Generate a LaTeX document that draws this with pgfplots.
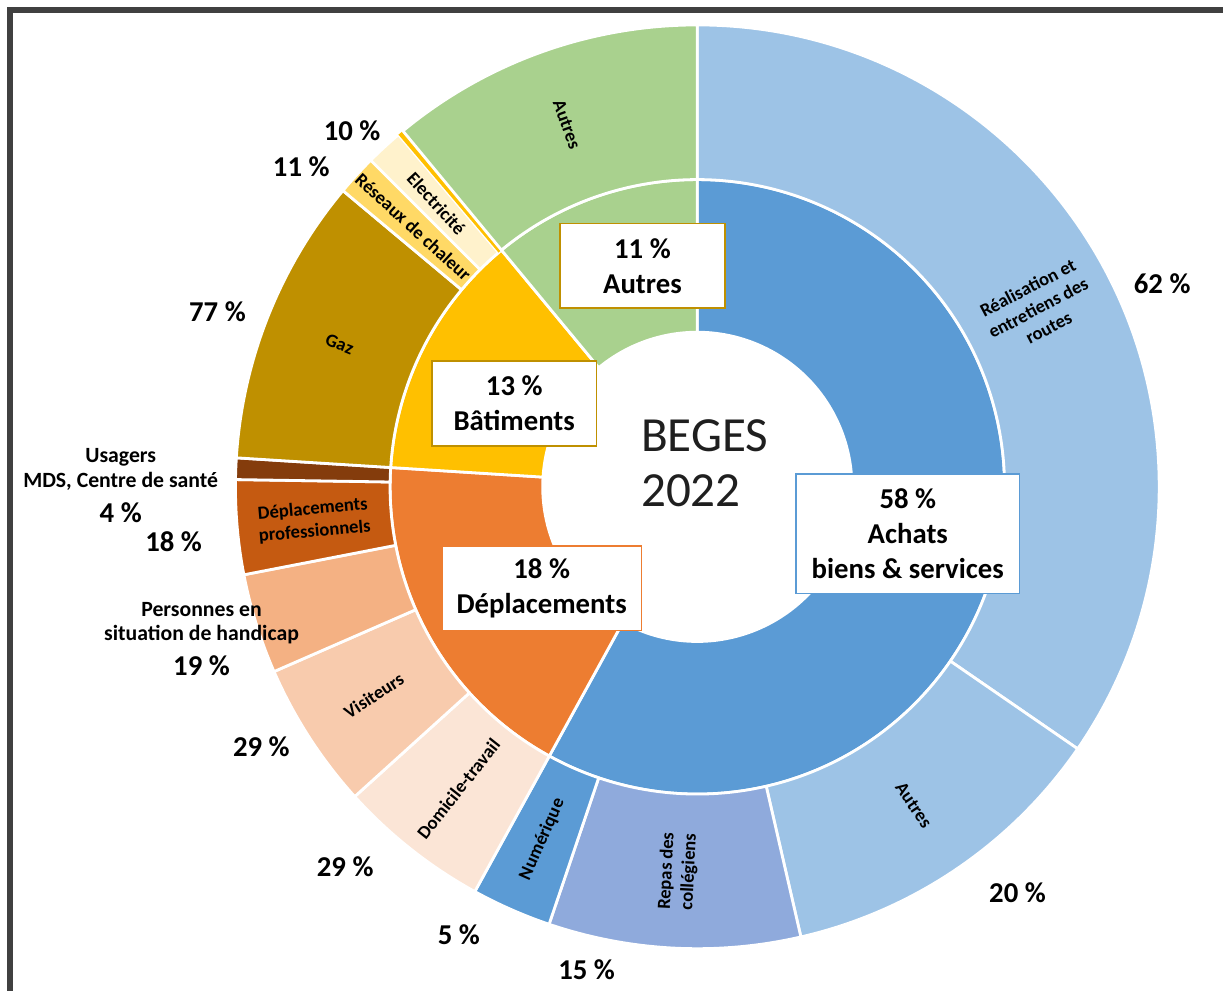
\documentclass[border=0pt]{standalone}
\usepackage{fontspec}
\setmainfont{Carlito}
\usepackage{pgfplots}
\usepackage{pgfplotstable}
\pgfplotsset{compat=1.18}
\usetikzlibrary{calc}

\definecolor{cAchats}{HTML}{5B9BD5}
\definecolor{cRoutes}{HTML}{9DC3E6}
\definecolor{cRepas}{HTML}{8FAADC}
\definecolor{cDepl}{HTML}{ED7D31}
\definecolor{cDom}{HTML}{FBE5D6}
\definecolor{cVis}{HTML}{F8CBAD}
\definecolor{cPers}{HTML}{F4B183}
\definecolor{cPro}{HTML}{C55A11}
\definecolor{cUsa}{HTML}{843C0C}
\definecolor{cBat}{HTML}{FFC000}
\definecolor{cGaz}{HTML}{BF9000}
\definecolor{cRes}{HTML}{FFD966}
\definecolor{cElec}{HTML}{FFF2CC}
\definecolor{cAut}{HTML}{A9D18E}
\definecolor{cFrame}{HTML}{404040}

% share of the total (%), cumulated clockwise from 12 o'clock
\pgfplotstableread{
from  to     col      bd
0     58     cAchats  white
58    76     cDepl    white
76    89     cBat     white
89    100    cAut     white
}\innerring

\pgfplotstableread{
from   to     col      bd
0      34.6   cRoutes  white
34.6   46.4   cRoutes  white
46.4   55.2   cRepas   white
55.2   58     cAchats  white
58     63.3   cDom     white
63.3   68.45  cVis     white
68.45  71.95  cPers    white
71.95  75.25  cPro     white
75.25  76     cUsa     white
76     86.08  cGaz     white
86.08  87.5   cRes     white
87.5   88.8   cElec    white
88.8   89     cBat     none
89     100    cAut     white
}\outerring

\newcommand{\ringsector}[6]{%
  \fill[#5, draw=#6, line width=0.8pt, line join=round]
    ($(axis cs:699,505)+({90-3.6*(#1)}:#4cm)$)
    arc[start angle={90-3.6*(#1)}, end angle={90-3.6*(#2)}, radius=#4cm]
    -- ($(axis cs:699,505)+({90-3.6*(#2)}:#3cm)$)
    arc[start angle={90-3.6*(#2)}, end angle={90-3.6*(#1)}, radius=#3cm]
    -- cycle;}

\newcommand{\drawring}[3]{%
  \pgfplotstablegetrowsof{#1}%
  \pgfmathtruncatemacro{\nrows}{\pgfplotsretval-1}%
  \foreach \i in {0,...,\nrows}{%
    \pgfplotstablegetelem{\i}{from}\of{#1}\let\va\pgfplotsretval
    \pgfplotstablegetelem{\i}{to}\of{#1}\let\vb\pgfplotsretval
    \pgfplotstablegetelem{\i}{col}\of{#1}\let\vc\pgfplotsretval
    \pgfplotstablegetelem{\i}{bd}\of{#1}\let\vd\pgfplotsretval
    \edef\temp{\noexpand\ringsector{\va}{\vb}{#2}{#3}{\vc}{\vd}}\temp
  }}

\newcommand{\segfont}{\fontsize{5.3}{6.4}\selectfont\bfseries}
\newcommand{\boxfont}{\fontsize{8.2}{10}\selectfont\bfseries}
\newcommand{\pctfont}{\fontsize{8.2}{10}\selectfont\bfseries}
\newcommand{\namefont}{\fontsize{6.2}{7.1}\selectfont\bfseries}

\newcommand{\seglabel}[3]{%
  \node[rotate=#2, font=\segfont, align=center, inner sep=0pt]
    at ($(axis cs:699,505)+({90-3.6*(#1)}:3.86cm)$) {#3};}

\begin{document}
\begin{tikzpicture}
\begin{axis}[
  scale only axis, width=12.26cm, height=9.93cm,
  xmin=0, xmax=1226, ymin=0, ymax=993,
  hide axis, clip=false]
\path (axis cs:0,0) rectangle (axis cs:1226,993);

\drawring{\innerring}{1.55}{3.08}
\drawring{\outerring}{3.08}{4.63}

% labels inside the outer ring
\seglabel{17.3}{27.7}{Réalisation et\\entretiens des\\routes}
\seglabel{40.5}{-55.8}{Autres}
\seglabel{50.8}{87.1}{Repas des\\collégiens}
\seglabel{56.6}{66.2}{Numérique}
\seglabel{60.65}{51.7}{Domicile-travail}
\seglabel{65.875}{32.85}{Visiteurs}
\seglabel{73.6}{5.0}{Déplacements\\professionnels}
\seglabel{81.04}{-21.7}{Gaz}
\seglabel{86.79}{-42.4}{Réseaux de chaleur}
\seglabel{88.15}{-47.4}{Electricité}
\seglabel{94.5}{-70.2}{Autres}

% boxes of the inner ring
\node[draw=cGaz, fill=white, line width=0.5pt, minimum width=1.66cm, minimum height=0.85cm,
  inner sep=0pt, align=center, font=\boxfont] at (axis cs:644,726.5) {11~\%\\Autres};
\node[draw=cGaz, fill=white, line width=0.5pt, minimum width=1.65cm, minimum height=0.85cm,
  inner sep=0pt, align=center, font=\boxfont] at (axis cs:515.5,588.5) {13~\%\\Bâtiments};
\node[draw=cDepl, fill=white, line width=0.5pt, minimum width=2.0cm, minimum height=0.85cm,
  inner sep=0pt, align=center, font=\boxfont] at (axis cs:543,403.5) {18~\%\\Déplacements};
\node[draw=cAchats, fill=white, line width=0.5pt, minimum width=2.24cm, minimum height=1.2cm,
  inner sep=0pt, align=center, font=\boxfont] at (axis cs:910,458) {58~\%\\Achats\\biens \& services};

% centre
\node[anchor=base west, inner sep=0pt, font=\fontsize{14}{16}\selectfont, text=black!88] at (axis cs:642,540) {BEGES};
\node[anchor=base west, inner sep=0pt, font=\fontsize{14}{16}\selectfont, text=black!88] at (axis cs:642,485) {2022};

% outer percentages
\node[font=\pctfont] at (axis cs:1165,709) {62~\%};
\node[font=\pctfont] at (axis cs:1020,98) {20~\%};
\node[font=\pctfont] at (axis cs:588,21) {15~\%};
\node[font=\pctfont] at (axis cs:460,56) {5~\%};
\node[font=\pctfont] at (axis cs:346,124) {29~\%};
\node[font=\pctfont] at (axis cs:262,244) {29~\%};
\node[font=\namefont] at (axis cs:202,382) {Personnes en};
\node[font=\namefont] at (axis cs:202,357) {situation de handicap};
\node[font=\pctfont] at (axis cs:202,326) {19~\%};
\node[font=\pctfont] at (axis cs:174,450) {18~\%};
\node[font=\namefont] at (axis cs:121,535) {Usagers};
\node[font=\namefont] at (axis cs:121,510) {MDS, Centre de santé};
\node[font=\pctfont] at (axis cs:121,479) {4~\%};
\node[font=\pctfont] at (axis cs:218,681) {77~\%};
\node[font=\pctfont] at (axis cs:302,826) {11~\%};
\node[font=\pctfont] at (axis cs:353,862) {10~\%};

% frame
\draw[cFrame, line width=1.7pt, line join=miter] (axis cs:10,0) -- (axis cs:10,983) -- (axis cs:1226,983);
\end{axis}
\end{tikzpicture}
\end{document}
